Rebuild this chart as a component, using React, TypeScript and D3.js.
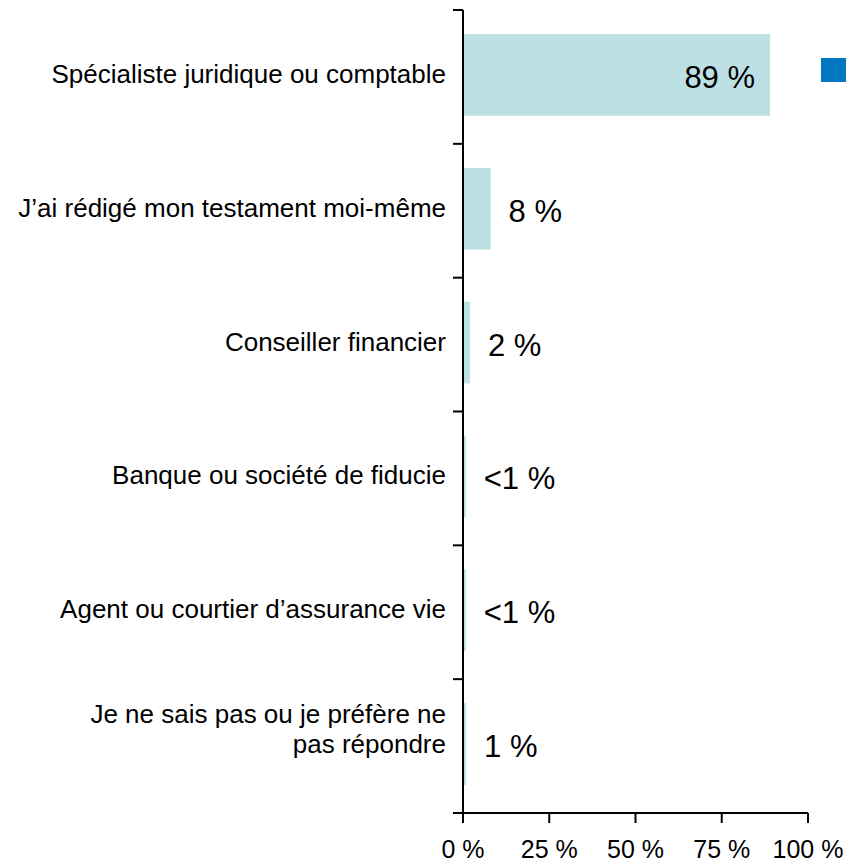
import React from 'react';
import * as d3 from 'd3';

// --- data ---
const categories = [
  'Spécialiste juridique ou comptable',
  'J’ai rédigé mon testament moi-même',
  'Conseiller financier',
  'Banque ou société de fiducie',
  'Agent ou courtier d’assurance vie',
  'Je ne sais pas ou je préfère ne|pas répondre',
];
const values = [89, 8, 2, 0.8, 0.8, 0.9];
const valueLabels = ['89 %', '8 %', '2 %', '<1 %', '<1 %', '1 %'];
const xTicks = [0, 25, 50, 75, 100];

const W = 846;
const H = 862;
const FONT = '"Liberation Sans", Arial, sans-serif';
const BAR = '#bce0e3';
const LEGEND = '#0077c0';

const App = () => {
  const x = d3.scaleLinear().domain([0, 100]).range([463, 808]);
  const y = d3.scaleBand<string>()
    .domain(categories)
    .range([10, 813])
    .paddingInner(0.39)
    .paddingOuter(0.195);
  const step = y.step();
  // tick marks sit between the categories
  const bounds = d3.range(categories.length + 1).map(i => 10 + i * step);

  return (
    <svg width={W} height={H} style={{ position: 'absolute', left: 0, top: 0, background: '#fff' }}
      fontFamily={FONT}>
      {/* bars */}
      {categories.map((c, i) => (
        <rect key={c} x={x(0)} y={y(c)! - 2} width={x(values[i]) - x(0)} height={y.bandwidth()} fill={BAR} />
      ))}

      {/* value labels */}
      {categories.map((c, i) => {
        const cy = y(c)! + y.bandwidth() / 2 - 2;
        const inside = values[i] > 50;
        return (
          <text key={c} x={inside ? x(values[i]) - 15 : x(values[i]) + 18} y={cy} dy="0.42em"
            textAnchor={inside ? 'end' : 'start'} fontSize={31} fill="#000">
            {valueLabels[i]}
          </text>
        );
      })}

      {/* category labels */}
      {categories.map(c => {
        const lines = c.split('|');
        const cy = y(c)! + y.bandwidth() / 2;
        return (
          <text key={c} x={446} textAnchor="end" fontSize={26} fill="#000">
            {lines.map((l, j) => (
              <tspan key={j} x={446} y={lines.length > 1 ? cy - 23 + j * 30 : cy + 6}>{l}</tspan>
            ))}
          </text>
        );
      })}

      {/* y axis */}
      <line x1={x(0)} x2={x(0)} y1={10} y2={814} stroke="#000" strokeWidth={2} />
      {bounds.map(b => (
        <line key={b} x1={x(0) - 10} x2={x(0)} y1={b} y2={b} stroke="#000" strokeWidth={2} />
      ))}

      {/* x axis */}
      <line x1={x(0)} x2={x(100)} y1={813} y2={813} stroke="#000" strokeWidth={2} />
      {xTicks.map(t => (
        <g key={t}>
          <line x1={x(t)} x2={x(t)} y1={813} y2={823} stroke="#000" strokeWidth={2} />
          <text x={x(t)} y={858} textAnchor="middle" fontSize={25} fill="#000">{`${t} %`}</text>
        </g>
      ))}

      {/* legend marker */}
      <rect x={821} y={58} width={25} height={24} fill={LEGEND} />
    </svg>
  );
};

export default App;
